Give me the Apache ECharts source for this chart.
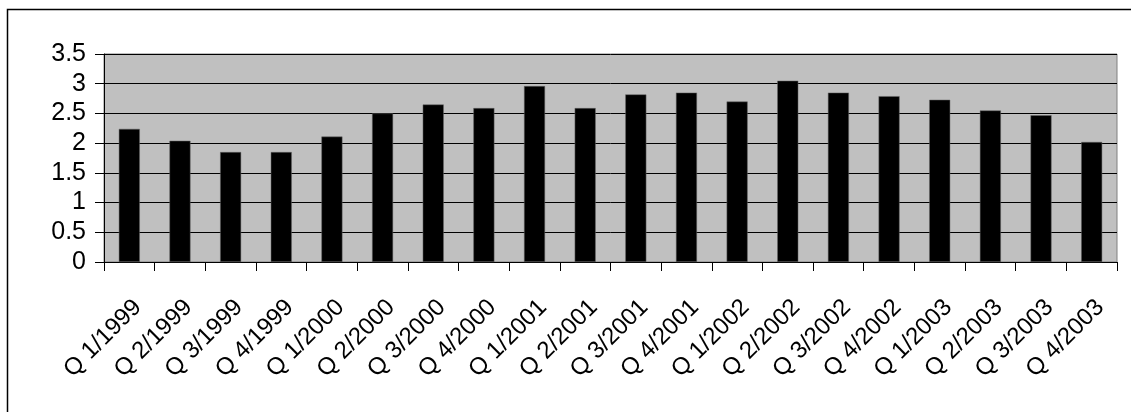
<!DOCTYPE html>
<html>
<head>
<meta charset="utf-8">
<style>
  html, body { margin: 0; padding: 0; background: #fff; }
  #chart { width: 1131px; height: 412px; }
</style>
<script src="https://cdn.jsdelivr.net/npm/echarts@6/dist/echarts.min.js"></script>
</head>
<body>
<div id="chart"></div>
<script>
// Quarterly values, 1999–2003
const quarters = [
  'Q 1/1999', 'Q 2/1999', 'Q 3/1999', 'Q 4/1999',
  'Q 1/2000', 'Q 2/2000', 'Q 3/2000', 'Q 4/2000',
  'Q 1/2001', 'Q 2/2001', 'Q 3/2001', 'Q 4/2001',
  'Q 1/2002', 'Q 2/2002', 'Q 3/2002', 'Q 4/2002',
  'Q 1/2003', 'Q 2/2003', 'Q 3/2003', 'Q 4/2003'
];
const values = [
  2.24, 2.04, 1.85, 1.85,
  2.11, 2.50, 2.65, 2.59,
  2.96, 2.59, 2.82, 2.85,
  2.70, 3.05, 2.85, 2.79,
  2.73, 2.55, 2.47, 2.02
];
const yTicks = [0, 0.5, 1, 1.5, 2, 2.5, 3, 3.5];

const chart = echarts.init(document.getElementById('chart'), null, { renderer: 'canvas' });
const font = 'Liberation Sans';

chart.setOption({
  animation: false,
  backgroundColor: '#ffffff',
  graphic: [
    {
      // chart-area frame (open towards the right and bottom edges)
      type: 'rect',
      shape: { x: 7.5, y: 9.5, width: 1200, height: 500 },
      style: { fill: 'none', stroke: '#000', lineWidth: 1.5 },
      z: 0
    }
  ],
  grid: {
    left: 104, right: 14, top: 54, bottom: 150,
    show: true,
    backgroundColor: '#c0c0c0',
    borderColor: '#808080',
    borderWidth: 1
  },
  xAxis: {
    type: 'category',
    data: quarters,
    axisLine: { show: true, lineStyle: { color: '#000', width: 1 } },
    axisTick: { show: true, length: 9, lineStyle: { color: '#000' } },
    axisLabel: {
      rotate: 45,
      interval: 0,
      margin: 50,
      padding: [0, -12, 0, 0],
      color: '#000',
      fontFamily: font,
      fontSize: 24
    },
    splitLine: { show: false }
  },
  yAxis: {
    type: 'value',
    min: yTicks[0],
    max: yTicks[yTicks.length - 1],
    interval: 0.5,
    axisLine: { show: true, lineStyle: { color: '#000', width: 1 } },
    axisTick: { show: true, inside: false, length: 9, lineStyle: { color: '#000' } },
    axisLabel: {
      margin: 18,
      color: '#000',
      fontFamily: font,
      fontSize: 25
    },
    splitLine: { show: true, lineStyle: { color: '#000', width: 1 } }
  },
  series: [
    {
      type: 'bar',
      data: values,
      barWidth: 21,
      itemStyle: { color: '#000', borderColor: '#666', borderWidth: 0.5 }
    }
  ]
});
</script>
</body>
</html>
